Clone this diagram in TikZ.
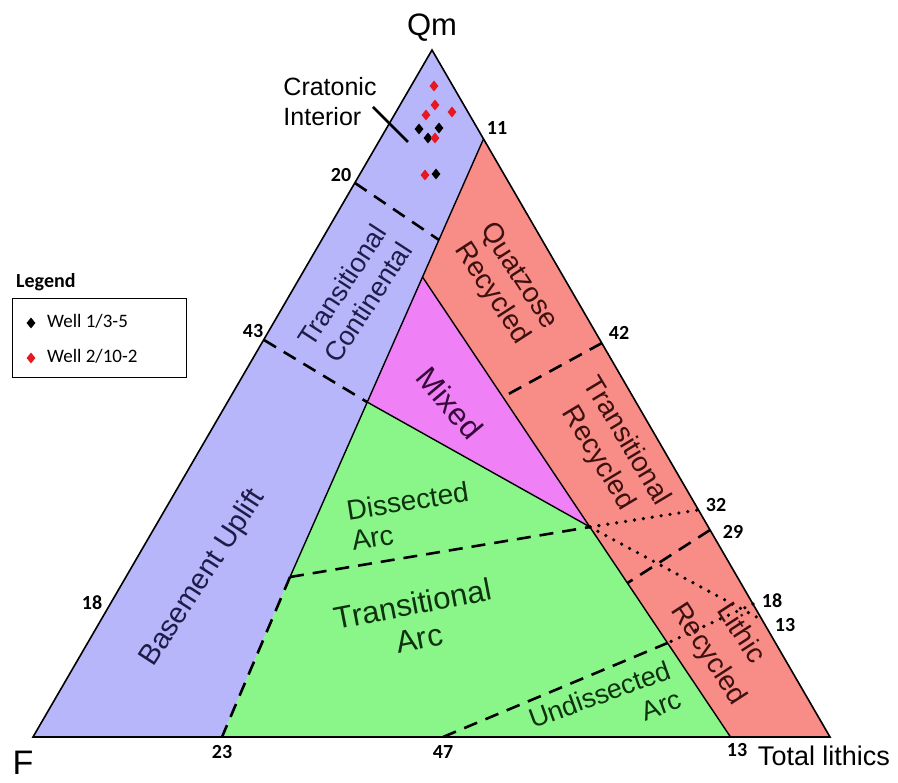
\documentclass[tikz,border=0pt]{standalone}
\usepackage{fontspec}
\setmainfont{Liberation Sans}
\newfontfamily\numfont{Carlito}
\usetikzlibrary{calc, positioning, shapes.geometric}

\definecolor{cratonblue}{RGB}{184,182,250}
\definecolor{recycred}{RGB}{248,140,134}
\definecolor{mixpink}{RGB}{240,128,246}
\definecolor{arcgreen}{RGB}{138,246,138}
\definecolor{bluetext}{RGB}{30,28,72}
\definecolor{redtext}{RGB}{62,16,16}
\definecolor{greentext}{RGB}{14,50,14}
\definecolor{pinktext}{RGB}{52,8,56}
\definecolor{wellred}{RGB}{232,24,32}

\begin{document}
\begin{tikzpicture}[x=1pt, y=-1pt,
  field/.style={font=\fontsize{27}{32}\selectfont, align=center, inner sep=0pt},
  tick/.style={font=\numfont\bfseries\fontsize{20}{20}\selectfont, inner sep=0pt},
  bound/.style={line width=1.4pt},
  dashbound/.style={line width=2.6pt, dash pattern=on 14pt off 9pt},
  dotbound/.style={line width=3.6pt, line cap=round, dash pattern=on 0pt off 9pt},
  well/.style={diamond, inner sep=0pt, minimum width=9pt, minimum height=11pt}]
\useasboundingbox (0,0) rectangle (898,783);

% corners and junctions of the fields
\coordinate (F) at (33,737);
\coordinate (Lt) at (830,737);
\coordinate (Qm) at (432,50);
\coordinate (j11) at (483.5,139);
\coordinate (jTop) at (422.5,277);
\coordinate (jMid) at (367,402);
\coordinate (jLow) at (290,577);
\coordinate (j23) at (222,737);
\coordinate (jP) at (590,527);
\coordinate (j13) at (730.5,737);
\coordinate (j47) at (443,737);
\coordinate (jUnd) at (667.5,643);

% ends of the dashed and dotted lines
\coordinate (e20) at (355,183);
\coordinate (i20) at (439,240);
\coordinate (e43) at (264,340);
\coordinate (e42) at (602,343);
\coordinate (i42) at (503,397);
\coordinate (e32) at (698,510);
\coordinate (e29) at (710,530);
\coordinate (i29) at (627.5,583);
\coordinate (e18) at (753,604);
\coordinate (e13) at (762,620);

% field fills
\fill[cratonblue] (F) -- (Qm) -- (j11) -- (jTop) -- (jMid) -- (jLow) -- (j23) -- cycle;
\fill[recycred] (j11) -- (Lt) -- (j13) -- (jP) -- (jTop) -- cycle;
\fill[mixpink] (jTop) -- (jP) -- (jMid) -- cycle;
\fill[arcgreen] (jMid) -- (jP) -- (j13) -- (j23) -- (jLow) -- cycle;

% solid boundaries
\draw[bound] (j11) -- (jLow);
\draw[bound] (jTop) -- (j13);
\draw[bound] (jMid) -- (jP);

% dashed and dotted boundaries
\draw[dashbound] (e20) -- (i20);
\draw[dashbound] (e43) -- (jMid);
\draw[dashbound] (e42) -- (i42);
\draw[dashbound] (jLow) -- (jP);
\draw[dashbound] (jLow) -- (j23);
\draw[dashbound] (j47) -- (jUnd);
\draw[dashbound] (e29) -- (i29);
\draw[dotbound] (jP) -- (e32);
\draw[dotbound] (jP) -- (e13);
\draw[dotbound] (e18) -- (jUnd);

% triangle outline
\draw[line width=1.6pt] (F) -- (Qm) -- (Lt) -- cycle;

% corner labels
\node[font=\fontsize{31}{31}\selectfont, anchor=base] (lQm) at (432,36) {Qm};
\node[font=\fontsize{34}{34}\selectfont, inner sep=0pt] (lF) at (23,763) {F};
\node[font=\fontsize{27}{27}\selectfont] (lLt) at (824,756) {Total lithics};

% field names
\node[field, align=left, font=\fontsize{25}{30}\selectfont] (cratonic) at (330,102) {Cratonic\\Interior};
\coordinate (leadA) at (373,107);
\coordinate (leadB) at (408,142);
\draw[line width=2.6pt] (leadA) -- (leadB);
\node[field, rotate=57, text=bluetext, font=\fontsize{27}{31}\selectfont] (transcont) at (355,294) {Transitional\\Continental};
\node[field, rotate=57, text=bluetext, font=\fontsize{29}{29}\selectfont] (basement) at (203,578) {Basement Uplift};
\node[field, rotate=-57, text=redtext, font=\fontsize{28}{32}\selectfont] (quartzose) at (505,285) {Quatzose\\Recycled};
\node[field, rotate=-50, text=pinktext, font=\fontsize{31}{31}\selectfont] (mixed) at (450,403) {Mixed};
\node[field, rotate=-59, text=redtext, font=\fontsize{28}{33}\selectfont] (transrec) at (612,450) {Transitional\\Recycled};
\node[field, rotate=-57, text=redtext, font=\fontsize{28}{38}\selectfont] (lithic) at (724,644) {Lithic\\Recycled};
\node[field, rotate=9, text=greentext, align=left, font=\fontsize{28}{31}\selectfont] (dissected) at (410,516) {Dissected\\Arc};
\node[field, rotate=11, text=greentext, font=\fontsize{31}{35}\selectfont] (transarc) at (416,621) {Transitional\\Arc};
\node[field, rotate=20, text=greentext, align=right, font=\fontsize{27}{31}\selectfont] (undissected) at (605,709) {Undissected\\Arc};

% percentages along the edges
\node[tick] (t20) at (341,175) {20};
\node[tick] (t11) at (497,128) {11};
\node[tick] (t43) at (253,331) {43};
\node[tick] (t42) at (619,333) {42};
\node[tick] (t32) at (716,505) {32};
\node[tick] (t29) at (733,532) {29};
\node[tick] (t18r) at (772,601) {18};
\node[tick] (t13r) at (785,625) {13};
\node[tick] (t18l) at (92,603) {18};
\node[tick] (t23) at (222,752) {23};
\node[tick] (t47) at (443,752) {47};
\node[tick] (t13b) at (737,750) {13};

% samples
\node[well, fill=black] (a1) at (419,129) {};
\node[well, fill=black] (a2) at (439,128) {};
\node[well, fill=black] (a3) at (428,138) {};
\node[well, fill=black] (a4) at (436,174) {};
\node[well, fill=wellred] (b1) at (434,86) {};
\node[well, fill=wellred] (b2) at (435,105) {};
\node[well, fill=wellred] (b3) at (426,115) {};
\node[well, fill=wellred] (b4) at (452,112) {};
\node[well, fill=wellred] (b5) at (435,138) {};
\node[well, fill=wellred] (b6) at (425,175) {};

% legend
\node[font=\numfont\bfseries\fontsize{20}{20}\selectfont, anchor=base west, inner sep=0pt] (legtitle) at (16,288) {Legend};
\node[draw, line width=1pt, minimum width=174pt, minimum height=79pt, inner sep=0pt] (legbox) at (99,338.5) {};
\node[well, fill=black] (keyA) at (31,323) {};
\node[font=\numfont\fontsize{19}{19}\selectfont, anchor=base west, inner sep=0pt] (keyAtext) at (47,328) {Well 1/3-5};
\node[well, fill=wellred] (keyB) at (31,358) {};
\node[font=\numfont\fontsize{19}{19}\selectfont, anchor=base west, inner sep=0pt] (keyBtext) at (47,363) {Well 2/10-2};
\end{tikzpicture}
\end{document}
